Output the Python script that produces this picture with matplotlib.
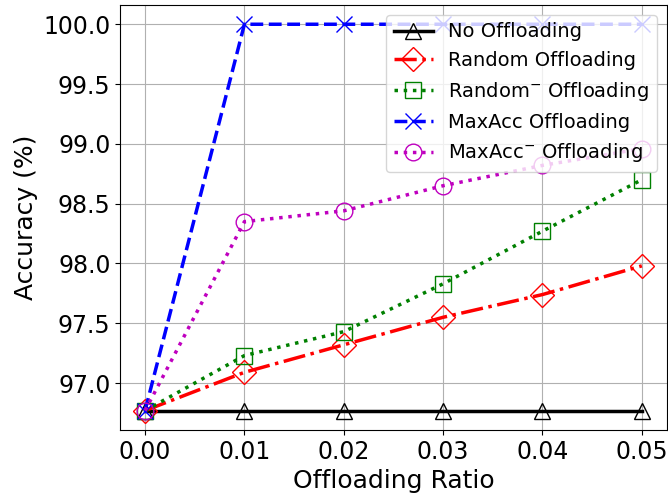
import numpy as np
import matplotlib
matplotlib.use('Agg')
import matplotlib.pyplot as plt

########## data
ratio = [0.00, 0.01, 0.02, 0.03, 0.04, 0.05]
acc_none = [96.77, 96.77, 96.77, 96.77, 96.77, 96.77]
acc_random = [96.77, 97.09, 97.32, 97.55, 97.74, 97.98]
acc_random_minus = [96.77, 97.23, 97.43, 97.83, 98.27, 98.70]
acc_maxacc = [96.77, 100.0, 100.0, 100.0, 100.0, 100.0]
acc_maxacc_minus = [96.77, 98.35, 98.44, 98.65, 98.82, 98.96]

xticks = [0.00, 0.01, 0.02, 0.03, 0.04, 0.05]
yticks = [97.0, 97.5, 98.0, 98.5, 99.0, 99.5, 100.0]

########## plot
fig = plt.figure(figsize=(6.68, 4.93), dpi=100)
ax = fig.add_subplot(111)
fig.subplots_adjust(left=0.18, right=0.998, top=0.99, bottom=0.128)

ms = 12
ax.plot(ratio, acc_none, color='k', linestyle='-', linewidth=2.5, marker='^',
        markersize=ms, fillstyle='none', markeredgewidth=1, label='No Offloading')
ax.plot(ratio, acc_random, color='r', linestyle='-.', linewidth=2.5, marker='D',
        markersize=ms, fillstyle='none', markeredgewidth=1, label='Random Offloading')
ax.plot(ratio, acc_random_minus, color='g', linestyle=':', linewidth=2.5, marker='s',
        markersize=ms, fillstyle='none', markeredgewidth=1, label='Random$^{-}$ Offloading')
ax.plot(ratio, acc_maxacc, color='b', linestyle='--', linewidth=2.5, marker='x',
        markersize=ms, fillstyle='none', markeredgewidth=1, label='MaxAcc Offloading')
ax.plot(ratio, acc_maxacc_minus, color='m', linestyle=':', linewidth=2.5, marker='o',
        markersize=ms, fillstyle='none', markeredgewidth=1, label='MaxAcc$^{-}$ Offloading')

ax.set_xticks(xticks)
ax.set_xticklabels(['%.2f' % t for t in xticks])
ax.set_yticks(yticks)
ax.set_yticklabels(['%.1f' % t for t in yticks])
ax.tick_params(labelsize=17)
ax.set_xlabel('Offloading Ratio', fontsize=18)
ax.set_ylabel('Accuracy (%)', fontsize=18)
ax.grid(True)
ax.legend(loc='upper right', fontsize=14)

plt.savefig('out.png', dpi=100)
